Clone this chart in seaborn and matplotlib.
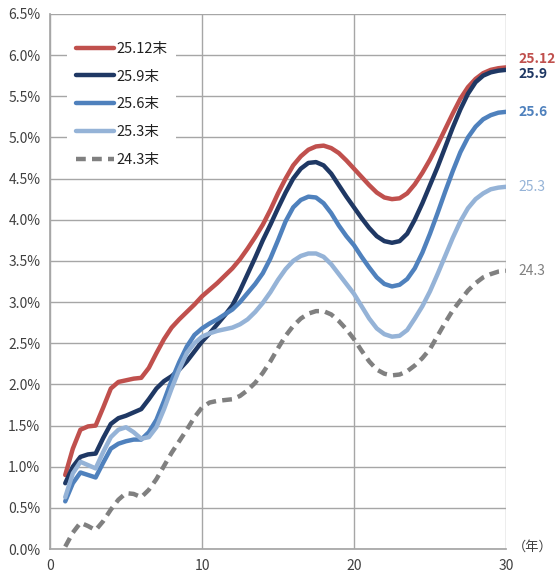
import numpy as np
import pandas as pd
import seaborn as sns
import matplotlib
matplotlib.use("Agg")
import matplotlib.pyplot as plt
from matplotlib.ticker import FuncFormatter

# 年限 (年) 0.5年刻み
years = [k / 2 for k in range(2, 61)]

# 各時点のイールドカーブ (%)
y_25_12 = [0.90, 1.22, 1.45, 1.49, 1.50, 1.72, 1.95, 2.03, 2.05, 2.07,
           2.08, 2.20, 2.38, 2.55, 2.69, 2.79, 2.88, 2.97, 3.07, 3.15,
           3.23, 3.32, 3.41, 3.52, 3.65, 3.79, 3.94, 4.12, 4.32, 4.50,
           4.66, 4.77, 4.85, 4.89, 4.90, 4.87, 4.81, 4.72, 4.62, 4.52,
           4.42, 4.33, 4.27, 4.25, 4.26, 4.32, 4.43, 4.57, 4.73, 4.91,
           5.10, 5.29, 5.47, 5.61, 5.71, 5.78, 5.82, 5.84, 5.85]
y_25_9 = [0.80, 1.00, 1.12, 1.15, 1.16, 1.35, 1.52, 1.59, 1.62, 1.66,
          1.70, 1.82, 1.95, 2.04, 2.10, 2.18, 2.28, 2.40, 2.52, 2.62,
          2.73, 2.84, 2.96, 3.14, 3.34, 3.54, 3.75, 3.94, 4.14, 4.33,
          4.50, 4.62, 4.69, 4.70, 4.66, 4.56, 4.42, 4.28, 4.15, 4.02,
          3.90, 3.80, 3.74, 3.72, 3.74, 3.83, 4.00, 4.20, 4.42, 4.64,
          4.88, 5.12, 5.34, 5.53, 5.67, 5.75, 5.79, 5.81, 5.82]
y_25_6 = [0.58, 0.80, 0.93, 0.90, 0.87, 1.05, 1.22, 1.28, 1.31, 1.33,
          1.33, 1.42, 1.57, 1.80, 2.05, 2.27, 2.46, 2.60, 2.68, 2.74,
          2.79, 2.85, 2.91, 3.00, 3.11, 3.22, 3.35, 3.53, 3.75, 3.98,
          4.15, 4.24, 4.28, 4.27, 4.20, 4.08, 3.93, 3.80, 3.69, 3.55,
          3.42, 3.30, 3.22, 3.19, 3.21, 3.28, 3.41, 3.60, 3.83, 4.08,
          4.34, 4.59, 4.82, 5.00, 5.13, 5.22, 5.27, 5.30, 5.31]
y_25_3 = [0.63, 0.92, 1.06, 1.02, 0.98, 1.18, 1.36, 1.45, 1.48, 1.42,
          1.34, 1.36, 1.48, 1.70, 1.95, 2.18, 2.38, 2.50, 2.58, 2.62,
          2.65, 2.67, 2.69, 2.73, 2.79, 2.88, 2.99, 3.12, 3.27, 3.40,
          3.50, 3.56, 3.59, 3.59, 3.55, 3.46, 3.34, 3.22, 3.10, 2.95,
          2.80, 2.68, 2.61, 2.58, 2.59, 2.66, 2.80, 2.95, 3.13, 3.34,
          3.56, 3.78, 3.98, 4.14, 4.25, 4.32, 4.37, 4.39, 4.40]
y_24_3 = [0.03, 0.20, 0.32, 0.28, 0.23, 0.34, 0.48, 0.60, 0.68, 0.67,
          0.63, 0.72, 0.85, 1.01, 1.17, 1.31, 1.45, 1.60, 1.72, 1.78,
          1.80, 1.81, 1.82, 1.86, 1.93, 2.02, 2.14, 2.28, 2.44, 2.59,
          2.71, 2.80, 2.86, 2.89, 2.89, 2.85, 2.77, 2.67, 2.55, 2.41,
          2.28, 2.18, 2.13, 2.11, 2.12, 2.16, 2.23, 2.32, 2.43, 2.59,
          2.75, 2.90, 3.02, 3.14, 3.23, 3.30, 3.34, 3.37, 3.38]

labels = ["25.12末", "25.9末", "25.6末", "25.3末", "24.3末"]
end_labels = ["25.12", "25.9", "25.6", "25.3", "24.3"]
colors = ["#C0504D", "#1F3864", "#4F81BD", "#95B3D7", "#808080"]
series = [y_25_12, y_25_9, y_25_6, y_25_3, y_24_3]

df = pd.concat(
    [pd.DataFrame({"year": years, "rate": s, "curve": lab}) for s, lab in zip(series, labels)],
    ignore_index=True,
)

sns.set_theme(style="whitegrid")
plt.rcParams["font.family"] = ["Noto Sans CJK JP", "DejaVu Sans"]

fig = plt.figure(figsize=(5.56, 5.78), dpi=100)
ax = fig.add_axes([0.090, 0.050, 0.820, 0.926])

for lab, col in zip(labels, colors):
    sub = df[df.curve == lab]
    dashed = lab == "24.3末"
    sns.lineplot(data=sub, x="year", y="rate", ax=ax, color=col, lw=3.2,
                 label=lab, linestyle="--" if dashed else "-",
                 solid_joinstyle="round", solid_capstyle="round")
    if dashed:
        ax.lines[-1].set_dashes((2.2, 1.4))

ax.set_xlim(0, 30)
ax.set_ylim(0, 6.5)
ax.set_xticks([0, 10, 20, 30])
ax.set_yticks(np.arange(0, 6.51, 0.5))
ax.yaxis.set_major_formatter(FuncFormatter(lambda v, p: f"{v:.1f}%"))
ax.set_xlabel("")
ax.set_ylabel("")
ax.grid(True, color="#A6A6A6", lw=1.0)
for sp in ax.spines.values():
    sp.set_visible(False)
ax.spines["left"].set_visible(True)
ax.spines["left"].set_color("#A6A6A6")
ax.spines["bottom"].set_visible(True)
ax.spines["bottom"].set_color("#A6A6A6")
ax.tick_params(axis="both", labelsize=10, colors="#404040", length=4,
               color="#A6A6A6", width=1, pad=3)

leg = ax.legend(loc="upper left", bbox_to_anchor=(0.022, 0.978), frameon=True,
                fontsize=10.5, handlelength=2.6, handletextpad=0.15,
                labelspacing=0.95, borderpad=0.6)
leg.get_frame().set_facecolor("white")
leg.get_frame().set_edgecolor("none")
leg.get_frame().set_alpha(1)
for t in leg.get_texts():
    t.set_color("#202020")

# 右端のラベル
offsets = [0.10, -0.05, 0.0, 0.0, 0.0]
weights = ["bold", "bold", "bold", "normal", "normal"]
for s, lab, col, off, w in zip(series, end_labels, colors, offsets, weights):
    ax.annotate(lab, xy=(years[-1], s[-1] + off), xytext=(9, 0),
                textcoords="offset points", color=col, fontsize=10,
                fontweight=w, va="center", ha="left", annotation_clip=False)

ax.annotate("（年）", xy=(30, 0), xytext=(5, 1), textcoords="offset points",
            fontsize=9.5, color="#404040", va="center", ha="left",
            annotation_clip=False)

fig.savefig("out.png", dpi=100)
